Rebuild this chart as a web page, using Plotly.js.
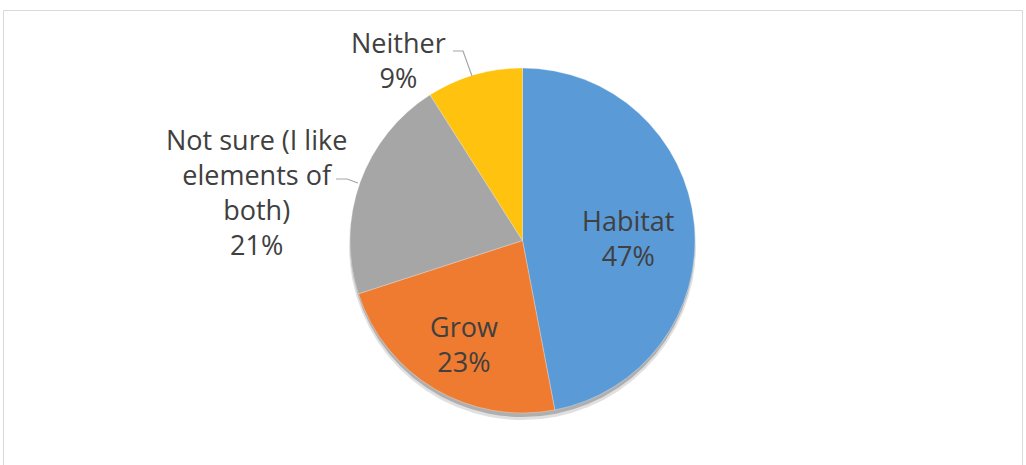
<!DOCTYPE html>
<html>
<head>
<meta charset="utf-8">
<script src="https://cdn.plot.ly/plotly-3.0.1.min.js"></script>
<style>
  html, body { margin: 0; padding: 0; background: #fff; }
  #chart { width: 1026px; height: 465px; }
</style>
</head>
<body>
<div id="chart"></div>
<script>
const categories = ["Habitat", "Grow", "Not sure (I like elements of both)", "Neither"];
const values = [47, 23, 21, 9];
const displayLabels = ["Habitat", "Grow", "Not sure (I like<br>elements of<br>both)", "Neither"];
const percentLabels = ["47%", "23%", "21%", "9%"];
const colors = ["#5A9AD6", "#EE7B30", "#A6A6A6", "#FFC20E"];

const W = 1026, H = 465;
const cx = 522.5, cy = 240.5, r = 172.5;
const px = x => x / W;
const py = y => 1 - y / H;

const labelPos = [
  {x: 628, y: 238},
  {x: 464, y: 344},
  {x: 256, y: 192},
  {x: 398, y: 60}
];

const annotations = categories.map((c, i) => ({
  xref: 'paper', yref: 'paper',
  x: px(labelPos[i].x), y: py(labelPos[i].y),
  xanchor: 'center', yanchor: 'middle',
  text: displayLabels[i] + '<br>' + percentLabels[i],
  showarrow: false,
  align: 'center',
  font: {family: '"Open Sans", Lato, sans-serif', size: 27, color: '#404040'}
}));

const leader = (pts) => ({
  type: 'path', xref: 'paper', yref: 'paper',
  path: pts.map((p, i) => (i ? 'L' : 'M') + px(p[0]) + ',' + py(p[1])).join(' '),
  line: {color: '#A6A6A6', width: 1.2}
});

const shapes = [
  {type: 'rect', xref: 'paper', yref: 'paper', x0: px(3.5), x1: px(1022.5), y0: -0.1, y1: py(10.5),
   line: {color: '#D9D9D9', width: 1}, fillcolor: 'rgba(0,0,0,0)', layer: 'below'},
  {type: 'circle', xref: 'paper', yref: 'paper', x0: px(cx - r - 1), x1: px(cx + r + 1),
   y0: py(cy + r + 7), y1: py(cy - r + 4), line: {width: 0}, fillcolor: 'rgba(0,0,0,0.12)', layer: 'below'},
  {type: 'circle', xref: 'paper', yref: 'paper', x0: px(cx - r), x1: px(cx + r),
   y0: py(cy + r + 4), y1: py(cy - r + 2), line: {width: 0}, fillcolor: 'rgba(0,0,0,0.22)', layer: 'below'},
  leader([[453, 51], [463, 51], [472, 76]]),
  leader([[336, 179], [347, 179], [358, 183]])
];

const data = [{
  type: 'pie',
  labels: categories,
  values: values,
  sort: false,
  direction: 'clockwise',
  rotation: 0,
  textinfo: 'none',
  hoverinfo: 'label+percent',
  marker: {colors: colors, line: {color: 'rgba(255,255,255,0.6)', width: 0.5}},
  domain: {x: [px(cx - r), px(cx + r)], y: [py(cy + r), py(cy - r)]},
  showlegend: false
}];

const layout = {
  width: W, height: H,
  margin: {l: 0, r: 0, t: 0, b: 0},
  paper_bgcolor: '#ffffff',
  showlegend: false,
  annotations: annotations,
  shapes: shapes
};

Plotly.newPlot('chart', data, layout, {displayModeBar: false, staticPlot: true});
</script>
</body>
</html>
